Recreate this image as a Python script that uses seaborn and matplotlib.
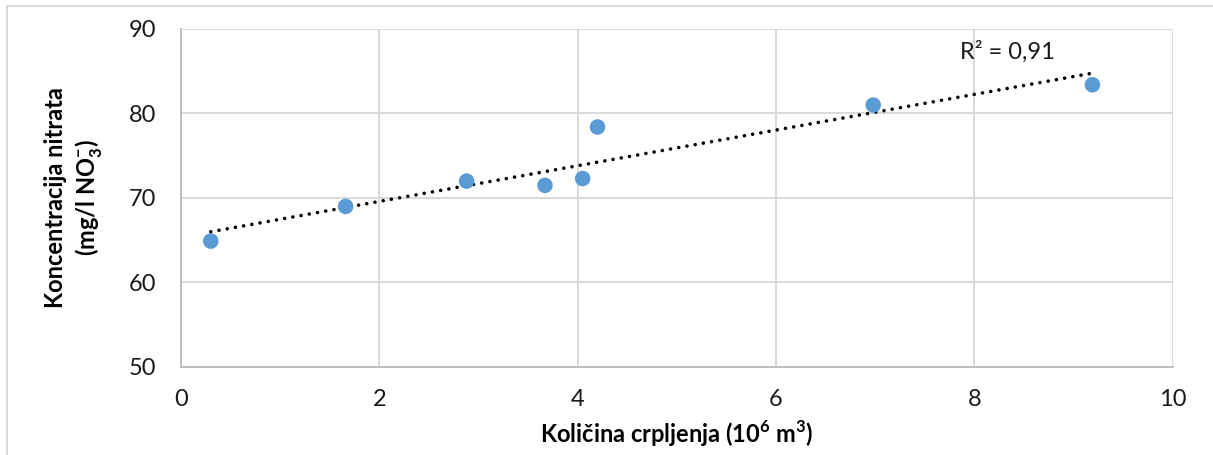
import numpy as np
import pandas as pd
import matplotlib
matplotlib.use("Agg")
import matplotlib.pyplot as plt
import seaborn as sns
from matplotlib.patches import Rectangle

# Data
crpljenje = [0.30, 1.66, 2.88, 3.67, 4.05, 4.20, 6.98, 9.19]   # 10^6 m3
nitrati = [64.9, 69.0, 72.0, 71.5, 72.3, 78.4, 81.0, 83.4]      # mg/l NO3-
x_ticks = [0, 2, 4, 6, 8, 10]
y_ticks = [50, 60, 70, 80, 90]
r2_label = "R\u00b2 = 0,91"

df = pd.DataFrame({"x": crpljenje, "y": nitrati})

sns.set_theme(style="white")
plt.rcParams["font.family"] = ["Lato", "DejaVu Sans"]
plt.rcParams["mathtext.fontset"] = "custom"
plt.rcParams["mathtext.rm"] = "Lato:bold"
plt.rcParams["mathtext.bf"] = "Lato:bold"

W, H, DPI = 1213, 455, 100
fig = plt.figure(figsize=(W / DPI, H / DPI), dpi=DPI)
ax = fig.add_axes([181 / W, 1 - 367 / H, (1172.7 - 181) / W, (367 - 29) / H])

# outer chart border
fig.patches.append(Rectangle((7 / W, -0.1), 1.2, 1 - 6.5 / H + 0.1,
                             transform=fig.transFigure, fill=False,
                             edgecolor="#d9d9d9", linewidth=1.5, zorder=0))

sns.regplot(data=df, x="x", y="y", ax=ax, scatter=False, ci=None, truncate=True,
            line_kws=dict(color="black", linewidth=2.6, linestyle=(0, (0.01, 2.3)),
                          dash_capstyle="round", zorder=3))
sns.scatterplot(data=df, x="x", y="y", ax=ax, s=125, color="#5B9BD5",
                edgecolor="none", zorder=4)

ax.set_xlim(0, 10)
ax.set_ylim(50, 90)
ax.set_xticks(x_ticks)
ax.set_yticks(y_ticks)
ax.grid(True, color="#d9d9d9", linewidth=1.4)
ax.set_axisbelow(True)
for s in ["top", "right"]:
    ax.spines[s].set_visible(False)
for s in ["left", "bottom"]:
    ax.spines[s].set_color("#bfbfbf")
    ax.spines[s].set_linewidth(1.4)
ax.tick_params(axis="both", length=0, labelsize=17, colors="#1a1a1a")
ax.tick_params(axis="y", pad=18)
ax.tick_params(axis="x", pad=16)

ax.set_xlabel("Količina crpljenja (10$^\\mathbf{6}$ m$^\\mathbf{3}$)",
              fontsize=17, fontweight="bold", color="black", labelpad=6)
ax.set_ylabel("Koncentracija nitrata\n(mg/l NO$_\\mathbf{3}^\\mathbf{-}$)",
              fontsize=17, fontweight="bold", color="black", labelpad=18,
              linespacing=1.25)

ax.text(7.86, 87.3, r2_label, fontsize=17, color="#1a1a1a", va="center", ha="left")

fig.savefig("out.png", dpi=DPI, facecolor="white")
